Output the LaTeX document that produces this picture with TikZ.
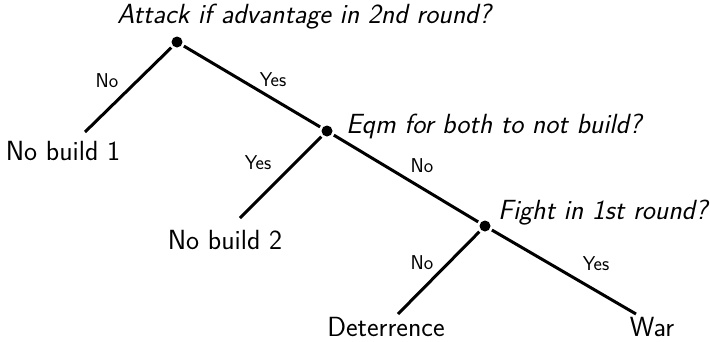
\documentclass[tikz,border=0pt]{standalone}
\usepackage{fontspec}
\begin{document}
\begin{tikzpicture}[x=1pt,y=-1pt,
  dot/.style={circle,fill=black,inner sep=0pt,minimum size=11pt,outer sep=2.5pt},
  edge/.style={line width=3pt},
  leaf/.style={font=\sffamily\fontsize{27.7}{30}\selectfont,inner sep=0pt},
  quest/.style={font=\sffamily\itshape\fontsize{27.7}{30}\selectfont,inner sep=0pt},
  lab/.style={font=\sffamily\fontsize{20}{23}\selectfont,inner sep=0pt}]
\useasboundingbox (0,0) rectangle (710,341);
\node[dot] (r) at (177,42) {};
\node[dot] (e) at (327,131) {};
\node[dot] (f) at (485,226) {};
\node[quest] (qr) at (304,17) {Attack if advantage in 2nd round?};
\node[quest,anchor=west] (qe) at (346,126) {Eqm for both to not build?};
\node[quest,anchor=west] (qf) at (498,213) {Fight in 1st round?};
\node[leaf] (l1) at (63,151) {No build 1};
\node[leaf] (l2) at (225,240) {No build 2};
\node[leaf] (l3) at (386,327) {Deterrence};
\node[leaf] (l4) at (652,327) {War};
\coordinate (c1) at (85,132);
\coordinate (c2) at (240,218);
\coordinate (c3) at (398,314);
\coordinate (c4) at (636,314);
\draw[edge] (r) -- (c1);
\draw[edge] (r) -- (e);
\draw[edge] (e) -- (c2);
\draw[edge] (e) -- (f);
\draw[edge] (f) -- (c3);
\draw[edge] (f) -- (c4);
\node[lab] (a1) at (107,81) {No};
\node[lab] (a2) at (273,80) {Yes};
\node[lab] (a3) at (258,163) {Yes};
\node[lab] (a4) at (422,166) {No};
\node[lab] (a5) at (422,263) {No};
\node[lab] (a6) at (596,264) {Yes};
\end{tikzpicture}
\end{document}
